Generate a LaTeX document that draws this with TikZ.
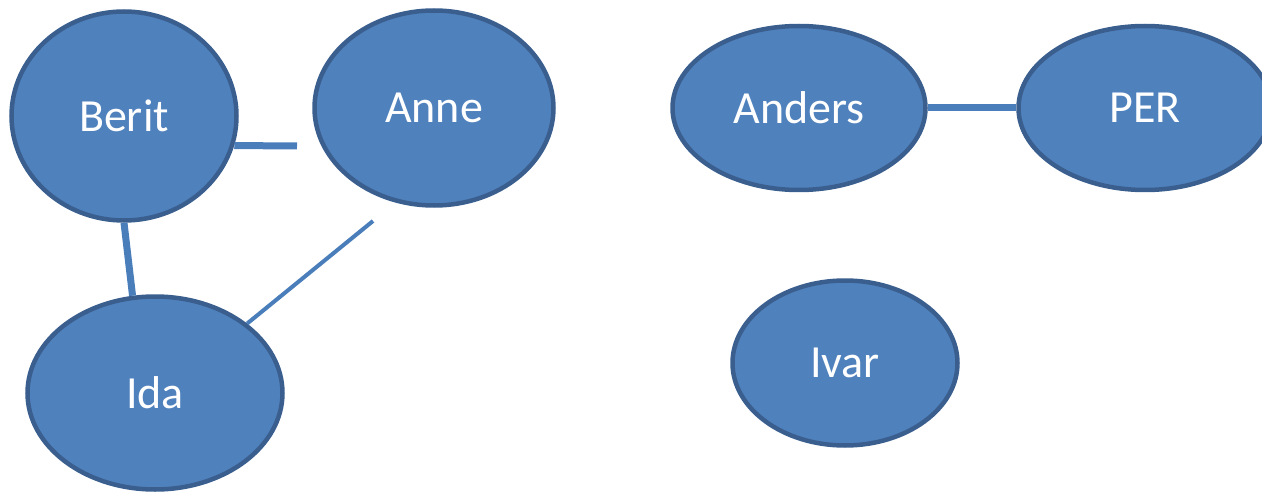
\documentclass[tikz,border=0pt]{standalone}
\usepackage{fontspec}
\setmainfont{Carlito}
\usetikzlibrary{positioning,shapes.geometric}

\definecolor{nodefill}{HTML}{4F81BD}
\definecolor{nodeedge}{HTML}{3A5F8F}
\definecolor{linkblue}{HTML}{4A7EBB}

\tikzset{
    person/.style={draw=nodeedge, line width=4.5pt, fill=nodefill, ellipse, inner sep=0pt,
        text=white, font=\fontsize{46}{52}\selectfont},
    link/.style={draw=linkblue, line width=7pt},
    thinlink/.style={draw=linkblue, line width=4pt}
}

\begin{document}
\begin{tikzpicture}[x=1pt, y=-1pt]
        \useasboundingbox (0,0) rectangle (1262,492);
        \node[person, minimum width=225pt, minimum height=209pt] (berit) at (124,116) {Berit};
        \node[person, minimum width=239pt, minimum height=195pt] (anne) at (434,108) {Anne};
        \node[person, minimum width=255pt, minimum height=193pt] (ida) at (155,393) {Ida};
        \node[person, minimum width=253pt, minimum height=164pt] (anders) at (799,108) {Anders};
        \node[person, minimum width=253pt, minimum height=164pt] (per) at (1145,108) {PER};
        \node[person, minimum width=225pt, minimum height=165pt] (ivar) at (845,363) {Ivar};
        % loose ends near Anne
        \coordinate (anneleft) at (297,146);
        \coordinate (annelow) at (373,221);
        \draw[link] (berit.-15) -- (anneleft);
        \draw[link] (berit.south) -- (ida.103);
        \draw[thinlink] (ida.37) -- (annelow);
        \draw[link] (anders) -- (per);
\end{tikzpicture}
\end{document}
